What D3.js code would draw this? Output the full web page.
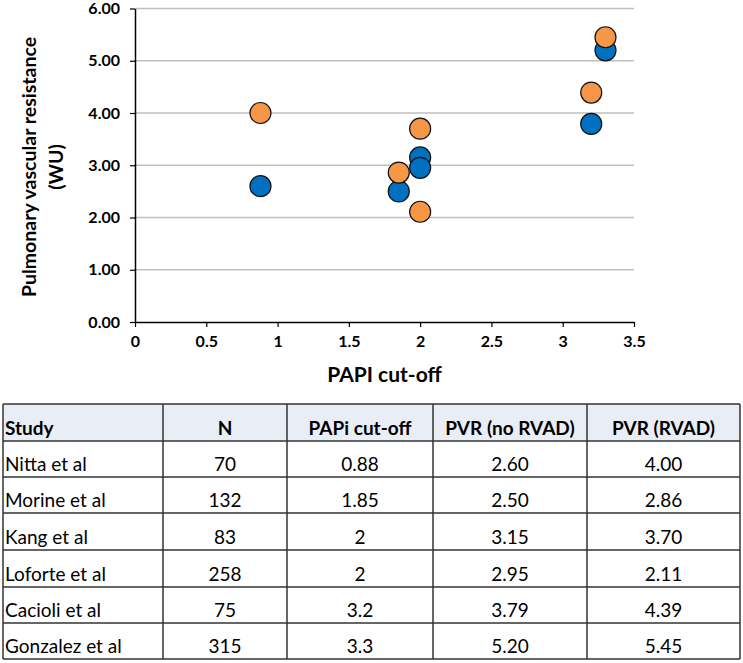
<!DOCTYPE html>
<html><head><meta charset="utf-8">
<script src="https://cdn.jsdelivr.net/npm/d3@7/dist/d3.min.js"></script>
<style>body{margin:0;background:#fff}svg{display:block}</style>
</head><body>
<svg id="c" width="743" height="663"></svg>
<script>
const studies = ["Nitta et al","Morine et al","Kang et al","Loforte et al","Cacioli et al","Gonzalez et al"];
const nValues = ["70","132","83","258","75","315"];
const papiCutoff = [0.88,1.85,2,2,3.2,3.3];
const papiLabels = ["0.88","1.85","2","2","3.2","3.3"];
const pvrNoRvad = [2.60,2.50,3.15,2.95,3.79,5.20];
const pvrRvad = [4.00,2.86,3.70,2.11,4.39,5.45];
const xTicks = [0,0.5,1,1.5,2,2.5,3,3.5];
const yTicks = [0,1,2,3,4,5,6];
const headers = ["Study","N","PAPi cut-off","PVR (no RVAD)","PVR (RVAD)"];

const FONT = "Lato, 'Liberation Sans', sans-serif";
const svg = d3.select("#c");
const x = d3.scaleLinear().domain([0,3.5]).range([135,634]);
const y = d3.scaleLinear().domain([0,6]).range([322,8.5]);

// gridlines
svg.append("g").selectAll("line").data(yTicks.filter(d=>d>0)).join("line")
  .attr("x1",x(0)).attr("x2",x(3.5)).attr("y1",d=>y(d)).attr("y2",d=>y(d))
  .attr("stroke","#bfbfbf").attr("stroke-width",1.5);

const xAxis = svg.append("g").attr("transform",`translate(0,${y(0)})`)
  .call(d3.axisBottom(x).tickValues(xTicks).tickFormat(d3.format("")).tickSizeInner(5).tickSizeOuter(0).tickPadding(6));
const yAxis = svg.append("g").attr("transform",`translate(${x(0)},0)`)
  .call(d3.axisLeft(y).tickValues(yTicks).tickFormat(d3.format(".2f")).tickSizeInner(5).tickSizeOuter(0).tickPadding(10));
[xAxis,yAxis].forEach(a=>{
  a.select(".domain").attr("stroke","#000").attr("stroke-width",1.5);
  a.selectAll(".tick line").attr("stroke","#000").attr("stroke-width",1.2);
  a.selectAll("text").attr("font-family",FONT).attr("font-weight","bold").attr("font-size",16).attr("fill","#000");
});
xAxis.selectAll("text").attr("dy","0.9em");

// axis titles
svg.append("text").attr("x",(x(0)+x(3.5))/2).attr("y",382).attr("text-anchor","middle")
  .attr("font-family",FONT).attr("font-weight","bold").attr("font-size",21).text("PAPI cut-off");
const yt = svg.append("text").attr("transform","translate(36,167) rotate(-90)").attr("text-anchor","middle")
  .attr("font-family",FONT).attr("font-weight","bold").attr("font-size",19.5);
yt.append("tspan").attr("x",0).attr("y",0).text("Pulmonary vascular resistance");
yt.append("tspan").attr("x",0).attr("y",27).text("(WU)");

// points
const pts = studies.map((s,i)=>({x:papiCutoff[i],a:pvrNoRvad[i],b:pvrRvad[i]}));
svg.append("g").selectAll("circle").data(pts).join("circle")
  .attr("cx",d=>x(d.x)).attr("cy",d=>y(d.a)).attr("r",10.5)
  .attr("fill","#0070c0").attr("stroke","#111").attr("stroke-width",1.2);
svg.append("g").selectAll("circle").data(pts).join("circle")
  .attr("cx",d=>x(d.x)).attr("cy",d=>y(d.b)).attr("r",10.5)
  .attr("fill","#f79646").attr("stroke","#111").attr("stroke-width",1.2);

// table
const colEdges = [3,163,287,433,587,740];
const rowEdges = [404,441,477,513,550,587,623,659];
const rows = studies.map((s,i)=>[s,nValues[i],papiLabels[i],pvrNoRvad[i].toFixed(2),pvrRvad[i].toFixed(2)]);
const tbl = svg.append("g");
tbl.append("rect").attr("x",colEdges[0]).attr("y",rowEdges[0]).attr("width",colEdges[5]-colEdges[0])
  .attr("height",rowEdges[1]-rowEdges[0]).attr("fill","#e9eef6");
const allRows = [headers].concat(rows);
allRows.forEach((r,ri)=>{
  r.forEach((t,ci)=>{
    const left = ci===0;
    tbl.append("text")
      .attr("x", left ? colEdges[0]+2 : (colEdges[ci]+colEdges[ci+1])/2)
      .attr("y", rowEdges[ri+1]-6)
      .attr("text-anchor", left ? "start" : "middle")
      .attr("font-family",FONT).attr("font-size",19)
      .attr("font-weight", ri===0 ? "bold" : "normal")
      .attr("fill","#000").text(t);
  });
});
tbl.selectAll("line.h").data(rowEdges).join("line")
  .attr("x1",colEdges[0]).attr("x2",colEdges[5]).attr("y1",d=>d).attr("y2",d=>d)
  .attr("stroke","#333").attr("stroke-width",1.5);
tbl.selectAll("line.v").data(colEdges).join("line")
  .attr("y1",rowEdges[0]).attr("y2",rowEdges[rowEdges.length-1]).attr("x1",d=>d).attr("x2",d=>d)
  .attr("stroke","#333").attr("stroke-width",1.5);
</script>
</body></html>
